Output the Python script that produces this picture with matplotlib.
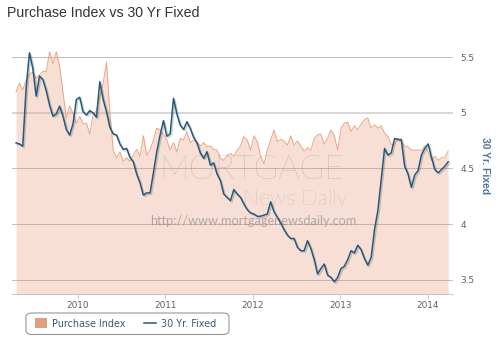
import numpy as np
import pandas as pd
import matplotlib
matplotlib.use("Agg")
import matplotlib.pyplot as plt
import matplotlib.dates as mdates
import matplotlib.patheffects as pe
from matplotlib.patches import Patch, FancyBboxPatch
from matplotlib.lines import Line2D
from matplotlib.ticker import FuncFormatter

# readings every two weeks, Apr 2009 .. Mar 2014
dates = pd.date_range("2009-04-17", periods=130, freq="14D")

purchase_index = [
    239, 249, 241, 253, 260, 262, 255, 259, 263, 263,
    286, 272, 286, 269, 239, 208, 222, 213, 202, 210,
    201, 202, 189, 212, 217, 233, 249, 274, 215, 170,
    161, 168, 157, 161, 157, 164, 171, 163, 187, 164,
    171, 182, 196, 194, 189, 182, 170, 179, 168, 184,
    182, 192, 179, 182, 180, 175, 179, 174, 175, 171,
    170, 161, 158, 164, 166, 163, 170, 175, 186, 182,
    170, 187, 180, 163, 154, 170, 182, 194, 180, 183,
    181, 176, 187, 176, 181, 175, 169, 173, 170, 184,
    188, 189, 177, 184, 194, 187, 170, 196, 202, 203,
    192, 199, 194, 201, 206, 208, 196, 200, 196, 199,
    190, 186, 177, 177, 184, 180, 175, 174, 170, 170,
    170, 170, 175, 168, 158, 163, 158, 161, 162, 169,
]

fixed_30yr = [
    4.73, 4.72, 4.70, 5.22, 5.54, 5.40, 5.15, 5.33, 5.30, 5.20,
    5.07, 4.97, 4.99, 5.06, 4.97, 4.85, 4.80, 4.90, 5.12, 5.14,
    5.01, 4.98, 5.02, 5.00, 4.96, 5.28, 5.12, 5.01, 4.87, 4.81,
    4.80, 4.72, 4.67, 4.68, 4.60, 4.56, 4.45, 4.37, 4.26, 4.28,
    4.28, 4.46, 4.65, 4.80, 4.93, 4.79, 4.81, 5.13, 4.99, 4.89,
    4.85, 4.92, 4.86, 4.78, 4.73, 4.64, 4.59, 4.65, 4.53, 4.55,
    4.45, 4.39, 4.27, 4.24, 4.21, 4.31, 4.27, 4.24, 4.18, 4.13,
    4.10, 4.09, 4.07, 4.07, 4.08, 4.09, 4.20, 4.11, 4.06, 4.01,
    3.95, 3.90, 3.87, 3.87, 3.79, 3.76, 3.76, 3.85, 3.78, 3.68,
    3.55, 3.60, 3.64, 3.54, 3.52, 3.48, 3.52, 3.60, 3.62, 3.68,
    3.76, 3.74, 3.81, 3.77, 3.69, 3.63, 3.70, 3.95, 4.12, 4.40,
    4.68, 4.62, 4.64, 4.77, 4.76, 4.76, 4.52, 4.45, 4.33, 4.44,
    4.48, 4.62, 4.68, 4.72, 4.60, 4.49, 4.46, 4.49, 4.52, 4.56,
]

rate_ticks = [3.5, 4, 4.5, 5, 5.5]

W, H = 500, 342
fig = plt.figure(figsize=(W / 100, H / 100), dpi=100)
fig.patch.set_facecolor("white")

# rate axis underneath (owns the grid and the right labels)
ax = fig.add_axes([12 / W, 1 - 294.3 / H, 441 / W, 254.3 / H])
axp = ax.twinx()
ax.yaxis.tick_right()

ax.set_xlim(dates[0] - pd.Timedelta(days=17), dates[-1] + pd.Timedelta(days=20))
ax.set_ylim(3.368, 5.655)
axp.set_ylim(0, 300)

ax.set_yticks(rate_ticks)
ax.yaxis.set_major_formatter(FuncFormatter(lambda v, p: f"{v:g}"))
ax.grid(axis="y", color="#c0c0c0", linewidth=0.75)
ax.grid(axis="x", visible=False)
for val, gl in zip(rate_ticks, ax.get_ygridlines()):
    if val == 5:
        gl.set_color("#d8d8d8")
        gl.set_linewidth(1.5)
ax.tick_params(axis="y", length=0, pad=5.5, labelsize=6.4, labelcolor="#606060",
               right=True, left=False, labelright=True, labelleft=False)

ax.xaxis.set_major_locator(mdates.YearLocator())
ax.xaxis.set_major_formatter(mdates.DateFormatter("%Y"))
ax.tick_params(axis="x", length=3.5, width=0.75, color="#c0d0e0", pad=1.5,
               labelsize=6.4, labelcolor="#606060")
for s in ["top", "left", "right"]:
    ax.spines[s].set_visible(False)
    axp.spines[s].set_visible(False)
ax.spines["bottom"].set_color("#c0d0e0")
ax.spines["bottom"].set_linewidth(0.75)
axp.spines["bottom"].set_visible(False)
axp.yaxis.set_visible(False)
axp.patch.set_visible(False)

# purchase index area
axp.fill_between(dates, purchase_index, 0, color="#e9967a", alpha=0.3, linewidth=0, zorder=1)
axp.plot(dates, purchase_index, color="#eba585", linewidth=0.7, zorder=1.5)

# watermark
wm = dict(transform=fig.transFigure, color="#707070", alpha=0.5, family="Lato", zorder=2)
axp.text(251.7 / W, 1 - 170 / H, "MORTGAGE", fontsize=24, weight="light",
         ha="center", va="center", **wm)
axp.text(347 / W, 1 - 199 / H, "News Daily", fontsize=15.5, weight="light",
         ha="right", va="center", **wm)
axp.text(253 / W, 1 - 221 / H, "http://www.mortgagenewsdaily.com", fontsize=9.2,
         ha="center", va="center", **wm)

# 30 yr fixed line, drawn on top using the rate scale
rate_color = "#235a7c"
axp.plot(dates, fixed_30yr, color=rate_color, linewidth=1.1, zorder=3,
         transform=ax.transData,
         path_effects=[pe.SimpleLineShadow(offset=(1, -1), alpha=0.18), pe.Normal()])

fig.text(7 / W, 1 - 13 / H, "Purchase Index vs 30 Yr Fixed", fontsize=10.2,
         family="Liberation Sans", color="#333333", va="center", ha="left")
fig.text(485 / W, 1 - 166 / H, "30 Yr. Fixed", rotation=270, fontsize=7.4,
         family="Liberation Sans", weight="bold", color="#4d759e",
         ha="center", va="center")

# legend box drawn by hand, entries inside it
box = FancyBboxPatch((26 / W, 1 - 334.5 / H), 203 / W, 21.5 / H,
                     boxstyle="round,pad=0,rounding_size=0.012",
                     transform=fig.transFigure, facecolor="white",
                     edgecolor="#909090", linewidth=0.75)
fig.patches.append(box)

handles = [Patch(facecolor="#e39d7f", edgecolor="none"),
           Line2D([0], [0], color=rate_color, linewidth=1.1)]
leg = fig.legend(handles, ["Purchase Index", "30 Yr. Fixed"], ncol=2,
                 loc="center left", bbox_to_anchor=(27 / W, 1 - 323.5 / H),
                 fontsize=6.9, labelcolor="#3e576f", frameon=False,
                 handlelength=1.3, handleheight=1.2, handletextpad=0.5,
                 columnspacing=1.9, borderpad=0.3)

fig.savefig("out.png", dpi=100)
